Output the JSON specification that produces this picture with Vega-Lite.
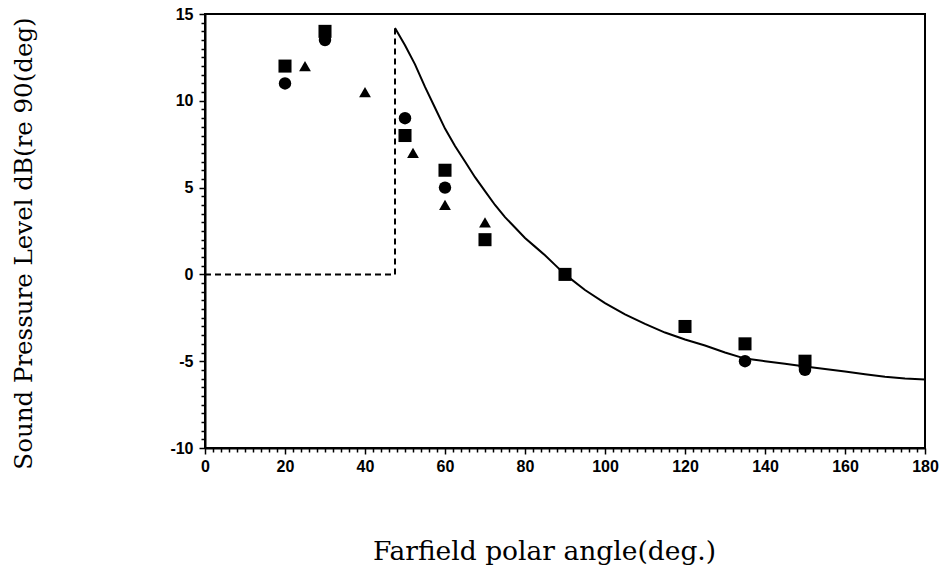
{
  "$schema": "https://vega.github.io/schema/vega-lite/v6.json",
  "width": 720,
  "height": 434,
  "autosize": {"type": "none"},
  "padding": {"left": 205, "top": 14, "right": 15, "bottom": 123},
  "background": "white",
  "config": {
    "view": {"stroke": "black", "strokeWidth": 2},
    "axis": {
      "domainColor": "black",
      "domainWidth": 2,
      "tickColor": "black",
      "tickWidth": 1.5,
      "tickOpacity": 1,
      "grid": false,
      "labelFont": "Liberation Sans",
      "labelFontWeight": "bold",
      "labelFontSize": 16,
      "labelColor": "black",
      "titleFont": "DejaVu Serif",
      "titleFontWeight": "normal",
      "titleColor": "black"
    }
  },
  "datasets": {
    "curve": [
      {"angle": 47.5, "spl": 14.2},
      {"angle": 50, "spl": 13.2},
      {"angle": 52.5, "spl": 12.1},
      {"angle": 55, "spl": 10.8},
      {"angle": 57.5, "spl": 9.6},
      {"angle": 60, "spl": 8.4},
      {"angle": 62.5, "spl": 7.4},
      {"angle": 65, "spl": 6.5},
      {"angle": 67.5, "spl": 5.6},
      {"angle": 70, "spl": 4.8},
      {"angle": 72.5, "spl": 4.0},
      {"angle": 75, "spl": 3.3},
      {"angle": 77.5, "spl": 2.7},
      {"angle": 80, "spl": 2.1},
      {"angle": 82.5, "spl": 1.6},
      {"angle": 85, "spl": 1.1},
      {"angle": 87.5, "spl": 0.55},
      {"angle": 90, "spl": 0.0},
      {"angle": 95, "spl": -0.9},
      {"angle": 100, "spl": -1.65},
      {"angle": 105, "spl": -2.3},
      {"angle": 110, "spl": -2.85},
      {"angle": 115, "spl": -3.35},
      {"angle": 120, "spl": -3.75},
      {"angle": 125, "spl": -4.1},
      {"angle": 130, "spl": -4.5},
      {"angle": 135, "spl": -4.85},
      {"angle": 140, "spl": -5.0},
      {"angle": 145, "spl": -5.15},
      {"angle": 150, "spl": -5.3},
      {"angle": 155, "spl": -5.45},
      {"angle": 160, "spl": -5.6},
      {"angle": 165, "spl": -5.75},
      {"angle": 170, "spl": -5.9},
      {"angle": 175, "spl": -6.0},
      {"angle": 180, "spl": -6.05}
    ],
    "dash": [
      {"i": 0, "angle": 0, "spl": 0},
      {"i": 1, "angle": 47.5, "spl": 0},
      {"i": 2, "angle": 47.5, "spl": 14.2}
    ],
    "points": [
      {"series": "square", "angle": 20, "spl": 12},
      {"series": "square", "angle": 30, "spl": 14},
      {"series": "square", "angle": 50, "spl": 8},
      {"series": "square", "angle": 60, "spl": 6},
      {"series": "square", "angle": 70, "spl": 2},
      {"series": "square", "angle": 90, "spl": 0},
      {"series": "square", "angle": 120, "spl": -3},
      {"series": "square", "angle": 135, "spl": -4},
      {"series": "square", "angle": 150, "spl": -5},
      {"series": "circle", "angle": 20, "spl": 11},
      {"series": "circle", "angle": 30, "spl": 13.5},
      {"series": "circle", "angle": 50, "spl": 9},
      {"series": "circle", "angle": 60, "spl": 5},
      {"series": "circle", "angle": 135, "spl": -5},
      {"series": "circle", "angle": 150, "spl": -5.5},
      {"series": "triangle", "angle": 25, "spl": 12},
      {"series": "triangle", "angle": 40, "spl": 10.5},
      {"series": "triangle", "angle": 52, "spl": 7},
      {"series": "triangle", "angle": 60, "spl": 4},
      {"series": "triangle", "angle": 70, "spl": 3}
    ]
  },
  "encoding": {
    "x": {
      "field": "angle",
      "type": "quantitative",
      "scale": {"domain": [0, 180], "nice": false, "zero": false},
      "axis": {
        "title": "Farfield polar angle(deg.)",
        "values": [0,2,4,6,8,10,12,14,16,18,20,22,24,26,28,30,32,34,36,38,40,42,44,46,48,50,52,54,56,58,60,62,64,66,68,70,72,74,76,78,80,82,84,86,88,90,92,94,96,98,100,102,104,106,108,110,112,114,116,118,120,122,124,126,128,130,132,134,136,138,140,142,144,146,148,150,152,154,156,158,160,162,164,166,168,170,172,174,176,178,180],
        "labelExpr": "datum.value % 20 === 0 ? toString(datum.value) : ''",
        "tickSize": {"condition": {"test": "datum.value % 20 === 0", "value": 6}, "value": 4},
        "labelPadding": 4,
        "labelFlush": false,
        "labelOverlap": false,
        "titleFontSize": 26.5,
        "titleX": 339,
        "titleY": 103,
        "titleAnchor": null,
        "titleBaseline": "middle",
        "titleAlign": "center"
      }
    },
    "y": {
      "field": "spl",
      "type": "quantitative",
      "scale": {"domain": [-10, 15], "nice": false, "zero": false},
      "axis": {
        "title": "Sound Pressure Level dB(re 90(deg)",
        "values": [-10,-9.5,-9,-8.5,-8,-7.5,-7,-6.5,-6,-5.5,-5,-4.5,-4,-3.5,-3,-2.5,-2,-1.5,-1,-0.5,0,0.5,1,1.5,2,2.5,3,3.5,4,4.5,5,5.5,6,6.5,7,7.5,8,8.5,9,9.5,10,10.5,11,11.5,12,12.5,13,13.5,14,14.5,15],
        "labelExpr": "datum.value % 5 === 0 ? toString(datum.value) : ''",
        "tickSize": {"condition": {"test": "datum.value % 5 === 0", "value": 6}, "value": 4},
        "labelPadding": 6,
        "labelFlush": false,
        "labelOverlap": false,
        "titleFontSize": 24.5,
        "titleX": -181,
        "titleY": 229,
        "titleAngle": 270,
        "titleAnchor": null,
        "titleBaseline": "middle",
        "titleAlign": "center"
      }
    }
  },
  "layer": [
    {
      "data": {"name": "dash"},
      "mark": {"type": "line", "color": "black", "strokeWidth": 2, "strokeDash": [6, 4]},
      "encoding": {"order": {"field": "i", "type": "quantitative"}}
    },
    {
      "data": {"name": "curve"},
      "mark": {"type": "line", "color": "black", "strokeWidth": 2}
    },
    {
      "data": {"name": "points"},
      "mark": {"type": "point", "filled": true, "color": "black", "opacity": 1},
      "encoding": {
        "shape": {
          "field": "series",
          "type": "nominal",
          "scale": {"domain": ["square", "circle", "triangle"], "range": ["square", "circle", "triangle-up"]},
          "legend": null
        },
        "size": {
          "field": "series",
          "type": "nominal",
          "scale": {"domain": ["square", "circle", "triangle"], "range": [170, 140, 130]},
          "legend": null
        }
      }
    }
  ]
}
